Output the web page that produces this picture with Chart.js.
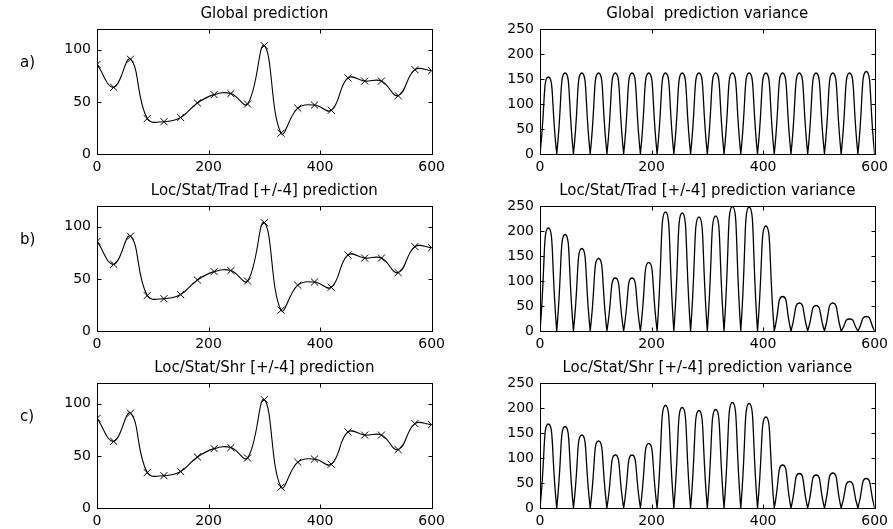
<!DOCTYPE html>
<html>
<head>
<meta charset="utf-8">
<script src="https://cdn.jsdelivr.net/npm/chart.js@4.4.0/dist/chart.umd.min.js"></script>
<style>
  html, body { margin: 0; padding: 0; background: #fff; overflow: hidden; }
  #wrap { position: relative; width: 893px; height: 529px; }
  .panel { position: absolute; }
  .tag { position: absolute; font: 15px "DejaVu Sans", sans-serif; color: #000; line-height: 18px; }
</style>
</head>
<body>
<div id="wrap">
  <div class="panel" style="left:0;top:0;width:450px;height:177px"><canvas id="predA"></canvas></div>
  <div class="panel" style="left:440px;top:0;width:453px;height:177px"><canvas id="varA"></canvas></div>
  <div class="panel" style="left:0;top:177px;width:450px;height:177px"><canvas id="predB"></canvas></div>
  <div class="panel" style="left:440px;top:177px;width:453px;height:177px"><canvas id="varB"></canvas></div>
  <div class="panel" style="left:0;top:354px;width:450px;height:177px"><canvas id="predC"></canvas></div>
  <div class="panel" style="left:440px;top:354px;width:453px;height:177px"><canvas id="varC"></canvas></div>
  <div class="tag" style="left:20px;top:53px">a)</div>
  <div class="tag" style="left:20px;top:230px">b)</div>
  <div class="tag" style="left:20px;top:407px">c)</div>
</div>
<script>
// sample positions and midpoints between them
const sampleX = [0, 30, 60, 90, 120, 150, 180, 210, 240, 270, 300, 330, 360, 390, 420, 450, 480, 510, 540, 570, 600];
const peakX = [15, 45, 75, 105, 135, 165, 195, 225, 255, 285, 315, 345, 375, 405, 435, 465, 495, 525, 555, 585];

// predictions
const globalPred = [86, 64, 91, 34, 31, 35, 49, 57, 58, 48, 104, 20, 44, 47, 42, 73, 70, 70, 56, 81, 80];
const tradPred   = [86, 64, 91, 34, 31, 35, 49, 57, 58, 48, 104, 20, 44, 47, 42, 73, 70, 70, 56, 81, 80];
const shrPred    = [86, 64, 91, 34, 31, 35, 49, 57, 58, 48, 104, 20, 44, 47, 42, 73, 70, 70, 56, 81, 80];

// prediction variance peaks between samples (right column)
const globalVarPeaks = [154, 162, 162, 162, 162, 162, 162, 162, 162, 162, 162, 162, 162, 162, 162, 162, 162, 162, 162, 165];
const tradVarPeaks   = [206, 193, 165, 145, 106, 106, 137, 238, 236, 228, 230, 249, 248, 210, 69, 56, 51, 56, 24, 29];
const shrVarPeaks    = [168, 163, 146, 134, 106, 106, 129, 205, 201, 195, 197, 211, 209, 182, 86, 69, 66, 70, 53, 59];

const xTicks = [0, 200, 400, 600];
const predYTicks = [0, 50, 100];
const varYTicks = [0, 50, 100, 150, 200, 250];

const FONT = '"DejaVu Sans", sans-serif';

// box around the plot area with small inward ticks on all four sides
const framePlugin = {
    id: 'frame',
    afterDatasetsDraw(chart) {
        const { ctx, chartArea: a } = chart;
        const x = chart.scales.x, y = chart.scales.y;
        const t = 4;
        ctx.save();
        ctx.strokeStyle = '#000';
        ctx.lineWidth = 1;
        const l = Math.round(a.left) + 0.5, r = Math.round(a.right) + 0.5;
        const tp = Math.round(a.top) + 0.5, b = Math.round(a.bottom) + 0.5;
        ctx.strokeRect(l, tp, r - l, b - tp);
        ctx.beginPath();
        x.ticks.forEach(tk => {
            const px = Math.round(x.getPixelForValue(tk.value)) + 0.5;
            ctx.moveTo(px, b); ctx.lineTo(px, b - t);
            ctx.moveTo(px, tp); ctx.lineTo(px, tp + t);
        });
        y.ticks.forEach(tk => {
            const py = Math.round(y.getPixelForValue(tk.value)) + 0.5;
            ctx.moveTo(l, py); ctx.lineTo(l + t, py);
            ctx.moveTo(r, py); ctx.lineTo(r - t, py);
        });
        ctx.stroke();
        ctx.restore();
    }
};

function baseOptions(title, yMax, yTicks, axisWidth, padRight) {
    return {
        responsive: true,
        maintainAspectRatio: false,
        animation: false,
        devicePixelRatio: 1,
        layout: { padding: { left: 0, right: padRight, top: 0, bottom: 0 } },
        plugins: {
            legend: { display: false },
            tooltip: { enabled: false },
            title: {
                display: true,
                text: title,
                fullSize: false,
                color: '#000',
                font: { family: FONT, size: 15, weight: 'normal', lineHeight: 1.2 },
                padding: { top: 5, bottom: 6 }
            }
        },
        scales: {
            x: {
                type: 'linear',
                min: 0,
                max: 600,
                grid: { display: false, drawTicks: false },
                border: { display: false },
                afterBuildTicks: s => { s.ticks = xTicks.map(v => ({ value: v })); },
                afterFit: s => { s.height = 23; },
                ticks: { color: '#000', font: { family: FONT, size: 14 }, padding: 5, maxRotation: 0 }
            },
            y: {
                min: 0,
                max: yMax,
                grid: { display: false, drawTicks: false },
                border: { display: false },
                afterBuildTicks: s => { s.ticks = yTicks.map(v => ({ value: v })); },
                afterFit: s => { s.width = axisWidth; },
                ticks: { color: '#000', font: { family: FONT, size: 14 }, padding: 6 }
            }
        }
    };
}

function makePredChart(id, title, values) {
    new Chart(document.getElementById(id), {
        type: 'line',
        data: {
            datasets: [{
                data: sampleX.map((x, i) => ({ x: x, y: values[i] })),
                borderColor: '#000',
                borderWidth: 1.1,
                tension: 0.42,
                fill: false,
                pointStyle: 'crossRot',
                pointRadius: 5,
                pointBorderColor: '#000',
                pointBorderWidth: 1
            }]
        },
        options: baseOptions(title, 120, predYTicks, 97, 16),
        plugins: [framePlugin]
    });
}

function makeVarChart(id, title, peaks) {
    // one arch per sample interval: zero at the samples, peak in between, gap after
    const pts = [];
    peaks.forEach((p, i) => {
        pts.push({ x: sampleX[i], y: 0 }, { x: peakX[i], y: p }, { x: sampleX[i + 1], y: 0 }, { x: sampleX[i + 1], y: null });
    });
    new Chart(document.getElementById(id), {
        type: 'line',
        data: {
            datasets: [{
                data: pts,
                borderColor: '#000',
                borderWidth: 1.3,
                tension: 0.65,
                fill: false,
                pointRadius: 0,
                spanGaps: false
            }]
        },
        options: baseOptions(title, 250, varYTicks, 100, 18),
        plugins: [framePlugin]
    });
}

makePredChart('predA', 'Global prediction', globalPred);
makePredChart('predB', 'Loc/Stat/Trad [+/-4] prediction', tradPred);
makePredChart('predC', 'Loc/Stat/Shr [+/-4] prediction', shrPred);
makeVarChart('varA', 'Global  prediction variance', globalVarPeaks);
makeVarChart('varB', 'Loc/Stat/Trad [+/-4] prediction variance', tradVarPeaks);
makeVarChart('varC', 'Loc/Stat/Shr [+/-4] prediction variance', shrVarPeaks);
</script>
</body>
</html>
